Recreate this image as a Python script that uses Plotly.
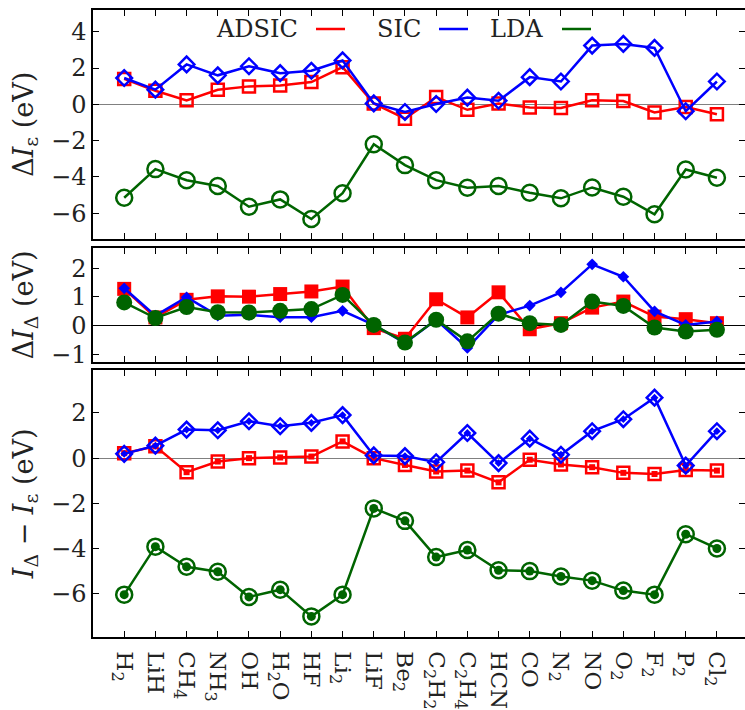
import plotly.graph_objects as go

# Molecules along the shared x axis
molecules = ["H<sub>2</sub>", "LiH", "CH<sub>4</sub>", "NH<sub>3</sub>", "OH", "H<sub>2</sub>O",
             "HF", "Li<sub>2</sub>", "LiF", "Be<sub>2</sub>", "C<sub>2</sub>H<sub>2</sub>",
             "C<sub>2</sub>H<sub>4</sub>", "HCN", "CO", "N<sub>2</sub>", "NO", "O<sub>2</sub>",
             "F<sub>2</sub>", "P<sub>2</sub>", "Cl<sub>2</sub>"]

# Panel 1: Delta I_epsilon (eV)
eps_adsic = [1.40, 0.75, 0.22, 0.80, 0.99, 1.04, 1.23, 2.05, 0.05, -0.79, 0.40, -0.30,
             0.04, -0.18, -0.20, 0.22, 0.18, -0.45, -0.15, -0.55]
eps_sic = [1.45, 0.81, 2.20, 1.60, 2.10, 1.72, 1.85, 2.42, 0.05, -0.42, 0.02, 0.37,
           0.20, 1.50, 1.26, 3.24, 3.33, 3.11, -0.38, 1.26]
eps_lda = [-5.15, -3.57, -4.18, -4.50, -5.64, -5.24, -6.32, -4.90, -2.20, -3.35, -4.18,
           -4.60, -4.50, -4.87, -5.18, -4.58, -5.09, -6.06, -3.59, -4.05]

# Panel 2: Delta I_Delta (eV)
dl_adsic = [1.28, 0.29, 0.90, 1.02, 1.01, 1.10, 1.19, 1.36, -0.08, -0.45, 0.92, 0.29,
            1.16, -0.12, 0.09, 0.63, 0.84, 0.32, 0.23, 0.09]
dl_sic = [1.30, 0.35, 0.99, 0.35, 0.38, 0.30, 0.30, 0.52, 0.03, -0.60, 0.21, -0.77,
          0.38, 0.70, 1.16, 2.13, 1.70, 0.50, 0.03, 0.15]
dl_lda = [0.81, 0.27, 0.65, 0.47, 0.46, 0.52, 0.58, 1.07, 0.03, -0.58, 0.21, -0.54,
          0.42, 0.09, 0.03, 0.84, 0.69, -0.06, -0.20, -0.14]

# Panel 3: I_Delta - I_epsilon (eV)
df_adsic = [0.22, 0.52, -0.62, -0.15, 0.00, 0.03, 0.07, 0.74, 0.00, -0.30, -0.59, -0.55,
            -1.07, -0.07, -0.28, -0.40, -0.65, -0.70, -0.52, -0.55]
df_sic = [0.19, 0.55, 1.26, 1.23, 1.63, 1.41, 1.56, 1.90, 0.12, 0.09, -0.18, 1.11,
          -0.22, 0.86, 0.15, 1.19, 1.72, 2.67, -0.33, 1.19]
df_lda = [-6.03, -3.91, -4.80, -5.02, -6.13, -5.81, -6.99, -6.03, -2.22, -2.77, -4.37,
          -4.06, -4.95, -4.99, -5.23, -5.41, -5.85, -6.03, -3.36, -3.99]

RED = "#ff0000"
BLUE = "#0000ff"
GREEN = "#006400"
FONT = "DejaVu Serif"
INK = "#222"
LW = 2.5

fig = go.Figure()


def series(y, color, symbol, size, lw_marker, xa, ya, mode="lines+markers"):
    fig.add_trace(go.Scatter(
        x=molecules, y=y, mode=mode, xaxis=xa, yaxis=ya, showlegend=False,
        line=dict(color=color, width=LW),
        marker=dict(symbol=symbol, size=size, color=color,
                    line=dict(color=color, width=lw_marker)),
        cliponaxis=False,
    ))


# top panel: open markers
series(eps_adsic, RED, "square-open", 12, 2.5, "x", "y")
series(eps_sic, BLUE, "diamond-open", 12, 2.5, "x", "y")
series(eps_lda, GREEN, "circle-open", 16, 2.5, "x", "y")

# middle panel: filled markers
series(dl_adsic, RED, "square", 14, 0, "x2", "y2")
series(dl_sic, BLUE, "diamond", 9, 0, "x2", "y2")
series(dl_lda, GREEN, "circle", 16, 0, "x2", "y2")

# bottom panel: open markers with a small filled core
series(df_adsic, RED, "square-open", 12, 2.5, "x3", "y3")
series(df_adsic, RED, "square", 6, 0, "x3", "y3", mode="markers")
series(df_sic, BLUE, "diamond-open", 12, 2.5, "x3", "y3")
series(df_sic, BLUE, "diamond", 6, 0, "x3", "y3", mode="markers")
series(df_lda, GREEN, "circle-open", 16, 2.5, "x3", "y3")
series(df_lda, GREEN, "circle", 9, 0, "x3", "y3", mode="markers")

xrange = [-1, 19.9]
common_x = dict(range=xrange, showline=True, linecolor="black", linewidth=1.5,
                mirror="ticks", ticks="inside", ticklen=6, tickwidth=1.2,
                tickcolor="black", showgrid=False, zeroline=False, automargin=False,
                categoryorder="array", categoryarray=molecules,
                tickmode="array", tickvals=molecules)
common_y = dict(showline=True, linecolor="black", linewidth=1.5, mirror="ticks",
                ticks="inside", ticklen=6, tickwidth=1.2, tickcolor="black",
                showgrid=False, zeroline=True, zerolinewidth=1.2, automargin=False,
                tickfont=dict(family=FONT, size=24, color=INK),
                title_font=dict(family=FONT, size=27, color=INK))

fig.update_layout(
    width=745, height=710,
    margin=dict(l=93, r=0, t=10, b=73),
    paper_bgcolor="white", plot_bgcolor="white",
    font=dict(family=FONT, color=INK, size=20),
    xaxis=dict(common_x, anchor="y", showticklabels=False),
    xaxis2=dict(common_x, anchor="y2", showticklabels=False, matches="x"),
    xaxis3=dict(common_x, anchor="y3", showticklabels=True, matches="x",
                tickangle=90, tickfont=dict(family=FONT, size=23, color=INK),
                ticklabelstandoff=8),
    yaxis=dict(common_y, domain=[0.6354, 1.0], anchor="x", range=[-7.4, 5.2],
               tickvals=[-6, -4, -2, 0, 2, 4], zerolinecolor="#808080",
               title=dict(text="Δ<i>I</i><sub>ε</sub> (eV)", standoff=10)),
    yaxis2=dict(common_y, domain=[0.4393, 0.6201], anchor="x2", range=[-1.24, 2.69],
                tickvals=[-1, 0, 1, 2], zerolinecolor="black",
                title=dict(text="Δ<i>I</i><sub>Δ</sub> (eV)", standoff=10)),
    yaxis3=dict(common_y, domain=[0.0, 0.4261], anchor="x3", range=[-7.9, 3.9],
                tickvals=[-6, -4, -2, 0, 2], zerolinecolor="#808080",
                title=dict(text="<i>I</i><sub>Δ</sub> − <i>I</i><sub>ε</sub> (eV)", standoff=10)),
)

# key in the top panel: label followed by a line sample
key = [("ADSIC", RED, 0.3175, 0.3420, 0.3865),
       ("SIC", BLUE, 0.506, 0.5307, 0.5752),
       ("LDA", GREEN, 0.6933, 0.7193, 0.7638)]
key_y = 0.9697
for label, color, xt, x0, x1 in key:
    fig.add_annotation(text=label, x=xt, y=key_y, xref="paper", yref="paper",
                       xanchor="right", yanchor="middle", showarrow=False,
                       font=dict(family=FONT, size=24, color=INK))
    fig.add_shape(type="line", x0=x0, x1=x1, y0=key_y, y1=key_y,
                  xref="paper", yref="paper", line=dict(color=color, width=LW))

fig.write_html("out.html")
